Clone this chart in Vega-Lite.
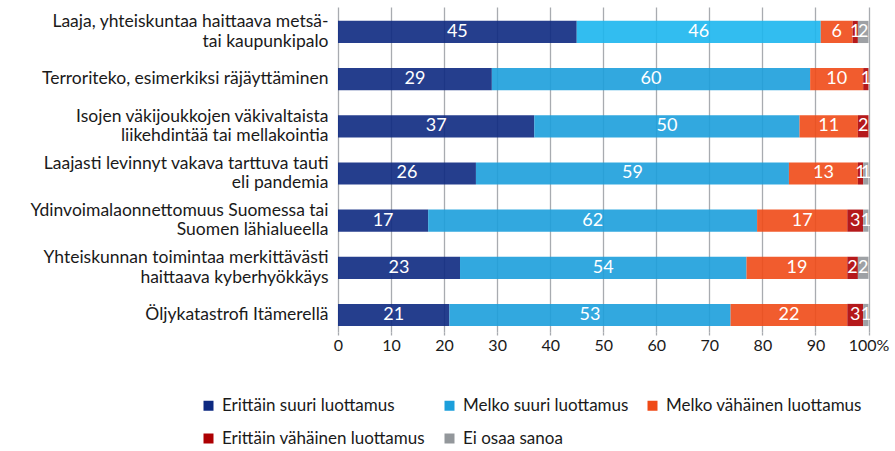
{
  "$schema": "https://vega.github.io/schema/vega-lite/v6.json",
  "autosize": "none",
  "padding": {"left": 338, "top": 7, "right": 26, "bottom": 119},
  "width": 530.5,
  "height": 325,
  "config": {
    "view": {"stroke": null},
    "font": "Lato",
    "axis": {"labelFont": "Lato", "labelColor": "#1a1a1a"},
    "legend": {"labelFont": "Lato"}
  },
  "data": {
    "values": [
      {"row": "Laaja, yhteiskuntaa haittaava metsä-|tai kaupunkipalo", "cat": "Erittäin suuri luottamus", "k": 1, "value": 45},
      {"row": "Laaja, yhteiskuntaa haittaava metsä-|tai kaupunkipalo", "cat": "Melko suuri luottamus", "k": 2, "value": 46},
      {"row": "Laaja, yhteiskuntaa haittaava metsä-|tai kaupunkipalo", "cat": "Melko vähäinen luottamus", "k": 3, "value": 6},
      {"row": "Laaja, yhteiskuntaa haittaava metsä-|tai kaupunkipalo", "cat": "Erittäin vähäinen luottamus", "k": 4, "value": 1},
      {"row": "Laaja, yhteiskuntaa haittaava metsä-|tai kaupunkipalo", "cat": "Ei osaa sanoa", "k": 5, "value": 2},
      {"row": "Terroriteko, esimerkiksi räjäyttäminen", "cat": "Erittäin suuri luottamus", "k": 1, "value": 29},
      {"row": "Terroriteko, esimerkiksi räjäyttäminen", "cat": "Melko suuri luottamus", "k": 2, "value": 60},
      {"row": "Terroriteko, esimerkiksi räjäyttäminen", "cat": "Melko vähäinen luottamus", "k": 3, "value": 10},
      {"row": "Terroriteko, esimerkiksi räjäyttäminen", "cat": "Erittäin vähäinen luottamus", "k": 4, "value": 1},
      {"row": "Isojen väkijoukkojen väkivaltaista|liikehdintää tai mellakointia", "cat": "Erittäin suuri luottamus", "k": 1, "value": 37},
      {"row": "Isojen väkijoukkojen väkivaltaista|liikehdintää tai mellakointia", "cat": "Melko suuri luottamus", "k": 2, "value": 50},
      {"row": "Isojen väkijoukkojen väkivaltaista|liikehdintää tai mellakointia", "cat": "Melko vähäinen luottamus", "k": 3, "value": 11},
      {"row": "Isojen väkijoukkojen väkivaltaista|liikehdintää tai mellakointia", "cat": "Erittäin vähäinen luottamus", "k": 4, "value": 2},
      {"row": "Laajasti levinnyt vakava tarttuva tauti|eli pandemia", "cat": "Erittäin suuri luottamus", "k": 1, "value": 26},
      {"row": "Laajasti levinnyt vakava tarttuva tauti|eli pandemia", "cat": "Melko suuri luottamus", "k": 2, "value": 59},
      {"row": "Laajasti levinnyt vakava tarttuva tauti|eli pandemia", "cat": "Melko vähäinen luottamus", "k": 3, "value": 13},
      {"row": "Laajasti levinnyt vakava tarttuva tauti|eli pandemia", "cat": "Erittäin vähäinen luottamus", "k": 4, "value": 1},
      {"row": "Laajasti levinnyt vakava tarttuva tauti|eli pandemia", "cat": "Ei osaa sanoa", "k": 5, "value": 1},
      {"row": "Ydinvoimalaonnettomuus Suomessa tai|Suomen lähialueella", "cat": "Erittäin suuri luottamus", "k": 1, "value": 17},
      {"row": "Ydinvoimalaonnettomuus Suomessa tai|Suomen lähialueella", "cat": "Melko suuri luottamus", "k": 2, "value": 62},
      {"row": "Ydinvoimalaonnettomuus Suomessa tai|Suomen lähialueella", "cat": "Melko vähäinen luottamus", "k": 3, "value": 17},
      {"row": "Ydinvoimalaonnettomuus Suomessa tai|Suomen lähialueella", "cat": "Erittäin vähäinen luottamus", "k": 4, "value": 3},
      {"row": "Ydinvoimalaonnettomuus Suomessa tai|Suomen lähialueella", "cat": "Ei osaa sanoa", "k": 5, "value": 1},
      {"row": "Yhteiskunnan toimintaa merkittävästi|haittaava kyberhyökkäys", "cat": "Erittäin suuri luottamus", "k": 1, "value": 23},
      {"row": "Yhteiskunnan toimintaa merkittävästi|haittaava kyberhyökkäys", "cat": "Melko suuri luottamus", "k": 2, "value": 54},
      {"row": "Yhteiskunnan toimintaa merkittävästi|haittaava kyberhyökkäys", "cat": "Melko vähäinen luottamus", "k": 3, "value": 19},
      {"row": "Yhteiskunnan toimintaa merkittävästi|haittaava kyberhyökkäys", "cat": "Erittäin vähäinen luottamus", "k": 4, "value": 2},
      {"row": "Yhteiskunnan toimintaa merkittävästi|haittaava kyberhyökkäys", "cat": "Ei osaa sanoa", "k": 5, "value": 2},
      {"row": "Öljykatastrofi Itämerellä", "cat": "Erittäin suuri luottamus", "k": 1, "value": 21},
      {"row": "Öljykatastrofi Itämerellä", "cat": "Melko suuri luottamus", "k": 2, "value": 53},
      {"row": "Öljykatastrofi Itämerellä", "cat": "Melko vähäinen luottamus", "k": 3, "value": 22},
      {"row": "Öljykatastrofi Itämerellä", "cat": "Erittäin vähäinen luottamus", "k": 4, "value": 3},
      {"row": "Öljykatastrofi Itämerellä", "cat": "Ei osaa sanoa", "k": 5, "value": 1}
    ]
  },
  "encoding": {
    "y": {
      "field": "row",
      "type": "nominal",
      "sort": null,
      "scale": {"paddingInner": 0.53, "paddingOuter": 0.21, "align": 0.7},
      "axis": {
        "title": null,
        "ticks": false,
        "domain": false,
        "labelFontSize": 17.5,
        "labelLimit": 0,
        "labelPadding": 10,
        "labelLineHeight": 19.5,
        "labelOffset": {
          "condition": {
            "test": "datum.value === 'Terroriteko, esimerkiksi räjäyttäminen' || datum.value === 'Öljykatastrofi Itämerellä'",
            "value": 0
          },
          "value": -9.75
        },
        "labelExpr": "split(datum.label, '|')"
      }
    },
    "x": {
      "field": "value",
      "type": "quantitative",
      "stack": "zero",
      "scale": {"domain": [0, 100], "nice": false},
      "axis": {
        "title": null,
        "values": [0, 10, 20, 30, 40, 50, 60, 70, 80, 90, 100],
        "grid": true,
        "gridColor": "#a8abb0",
        "gridWidth": 1.3,
        "domain": false,
        "ticks": true,
        "tickColor": "#a8abb0",
        "tickWidth": 1.3,
        "tickSize": 3,
        "labelFontSize": 16,
        "labelPadding": 2,
        "labelFlush": false,
        "labelExpr": "datum.value === 100 ? '100%' : datum.label"
      }
    },
    "order": {"field": "k", "type": "quantitative"}
  },
  "layer": [
    {
      "mark": {"type": "bar", "opacity": 0.9},
      "encoding": {
        "color": {
          "field": "cat",
          "type": "nominal",
          "sort": ["Erittäin suuri luottamus", "Melko suuri luottamus", "Melko vähäinen luottamus", "Erittäin vähäinen luottamus", "Ei osaa sanoa"],
          "scale": {
            "domain": ["Erittäin suuri luottamus", "Melko suuri luottamus", "Melko vähäinen luottamus", "Erittäin vähäinen luottamus", "Ei osaa sanoa"],
            "range": ["#0d2981", "#1c9fdb", "#ef4a17", "#ad0002", "#93979b"]
          },
          "condition": {
            "test": "datum.row === 'Laaja, yhteiskuntaa haittaava metsä-|tai kaupunkipalo' && datum.cat === 'Melko suuri luottamus'",
            "value": "#1cb6ee"
          },
          "legend": {
            "title": null,
            "orient": "none",
            "direction": "horizontal",
            "columns": 3,
            "legendX": -138,
            "legendY": 390,
            "labelFontSize": 17,
            "labelColor": "#1a1a1a",
            "symbolType": "square",
            "symbolSize": 100,
            "symbolOpacity": 1,
            "symbolStrokeWidth": 0,
            "labelOffset": 5,
            "columnPadding": 15,
            "rowPadding": 15,
            "labelLimit": 0
          }
        }
      }
    },
    {
      "mark": {"type": "text", "color": "white", "fontSize": 18, "font": "Lato"},
      "encoding": {
        "x": {"field": "value", "type": "quantitative", "stack": "zero", "bandPosition": 0.5},
        "detail": {"field": "cat"},
        "text": {"field": "value", "type": "quantitative"}
      }
    }
  ]
}
